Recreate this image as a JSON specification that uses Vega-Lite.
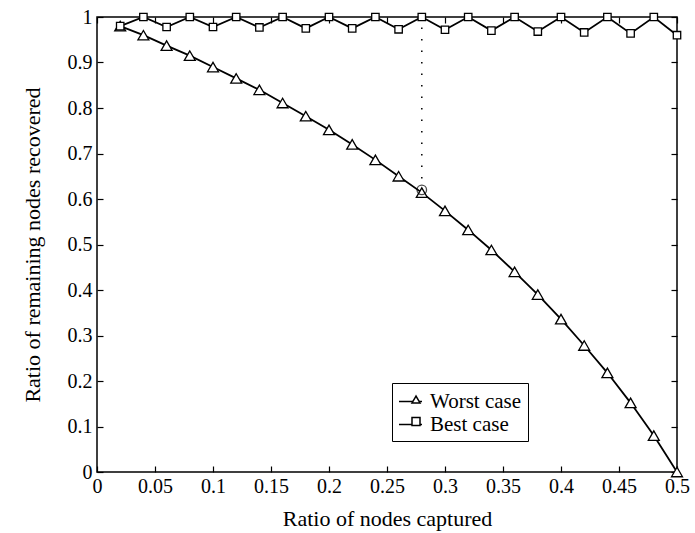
{
  "$schema": "https://vega.github.io/schema/vega-lite/v6.json",
  "width": 580,
  "height": 455,
  "autosize": {"type": "none"},
  "padding": {"left": 97, "top": 17, "right": 18, "bottom": 61},
  "background": "white",
  "config": {
    "font": "Liberation Serif",
    "view": {"stroke": "black", "strokeWidth": 1.5},
    "axis": {
      "grid": false,
      "domain": false,
      "tickColor": "black",
      "tickSize": -6,
      "tickWidth": 1.2,
      "labelColor": "black",
      "labelFont": "Liberation Serif",
      "labelFontSize": 20,
      "titleFont": "Liberation Serif",
      "titleFontSize": 22,
      "titleFontWeight": "normal",
      "titleColor": "black",
      "format": "~g"
    }
  },
  "datasets": {
    "curves": [
      {"x": 0.02, "y": 0.98, "series": "Worst case"},
      {"x": 0.04, "y": 0.96, "series": "Worst case"},
      {"x": 0.06, "y": 0.937, "series": "Worst case"},
      {"x": 0.08, "y": 0.915, "series": "Worst case"},
      {"x": 0.10, "y": 0.89, "series": "Worst case"},
      {"x": 0.12, "y": 0.865, "series": "Worst case"},
      {"x": 0.14, "y": 0.84, "series": "Worst case"},
      {"x": 0.16, "y": 0.811, "series": "Worst case"},
      {"x": 0.18, "y": 0.782, "series": "Worst case"},
      {"x": 0.20, "y": 0.752, "series": "Worst case"},
      {"x": 0.22, "y": 0.72, "series": "Worst case"},
      {"x": 0.24, "y": 0.686, "series": "Worst case"},
      {"x": 0.26, "y": 0.65, "series": "Worst case"},
      {"x": 0.28, "y": 0.614, "series": "Worst case"},
      {"x": 0.30, "y": 0.574, "series": "Worst case"},
      {"x": 0.32, "y": 0.532, "series": "Worst case"},
      {"x": 0.34, "y": 0.488, "series": "Worst case"},
      {"x": 0.36, "y": 0.44, "series": "Worst case"},
      {"x": 0.38, "y": 0.39, "series": "Worst case"},
      {"x": 0.40, "y": 0.336, "series": "Worst case"},
      {"x": 0.42, "y": 0.278, "series": "Worst case"},
      {"x": 0.44, "y": 0.218, "series": "Worst case"},
      {"x": 0.46, "y": 0.152, "series": "Worst case"},
      {"x": 0.48, "y": 0.08, "series": "Worst case"},
      {"x": 0.50, "y": 0.0, "series": "Worst case"},
      {"x": 0.02, "y": 0.98, "series": "Best case"},
      {"x": 0.04, "y": 1.0, "series": "Best case"},
      {"x": 0.06, "y": 0.978, "series": "Best case"},
      {"x": 0.08, "y": 1.0, "series": "Best case"},
      {"x": 0.10, "y": 0.978, "series": "Best case"},
      {"x": 0.12, "y": 1.0, "series": "Best case"},
      {"x": 0.14, "y": 0.977, "series": "Best case"},
      {"x": 0.16, "y": 1.0, "series": "Best case"},
      {"x": 0.18, "y": 0.975, "series": "Best case"},
      {"x": 0.20, "y": 1.0, "series": "Best case"},
      {"x": 0.22, "y": 0.975, "series": "Best case"},
      {"x": 0.24, "y": 1.0, "series": "Best case"},
      {"x": 0.26, "y": 0.973, "series": "Best case"},
      {"x": 0.28, "y": 1.0, "series": "Best case"},
      {"x": 0.30, "y": 0.972, "series": "Best case"},
      {"x": 0.32, "y": 1.0, "series": "Best case"},
      {"x": 0.34, "y": 0.97, "series": "Best case"},
      {"x": 0.36, "y": 1.0, "series": "Best case"},
      {"x": 0.38, "y": 0.968, "series": "Best case"},
      {"x": 0.40, "y": 1.0, "series": "Best case"},
      {"x": 0.42, "y": 0.966, "series": "Best case"},
      {"x": 0.44, "y": 1.0, "series": "Best case"},
      {"x": 0.46, "y": 0.964, "series": "Best case"},
      {"x": 0.48, "y": 1.0, "series": "Best case"},
      {"x": 0.50, "y": 0.96, "series": "Best case"}
    ],
    "marker": [{"x": 0.28, "y": 0.62, "y2": 1.0}]
  },
  "resolve": {"axis": {"x": "independent", "y": "independent"}},
  "layer": [
    {
      "data": {"name": "marker"},
      "mark": {"type": "rule", "stroke": "black", "strokeWidth": 1.5, "strokeDash": [1.5, 10]},
      "encoding": {
        "x": {"field": "x", "type": "quantitative", "scale": {"domain": [0, 0.5], "nice": false},
          "axis": {"orient": "bottom", "title": "Ratio of nodes captured", "values": [0, 0.05, 0.1, 0.15, 0.2, 0.25, 0.3, 0.35, 0.4, 0.45, 0.5], "labelFlush": false, "labelPadding": 10, "titlePadding": 12}},
        "y": {"field": "y", "type": "quantitative", "scale": {"domain": [0, 1], "nice": false},
          "axis": {"orient": "left", "title": "Ratio of remaining nodes recovered", "values": [0, 0.1, 0.2, 0.3, 0.4, 0.5, 0.6, 0.7, 0.8, 0.9, 1], "labelFlush": false, "labelPadding": 11, "titlePadding": 23}},
        "y2": {"field": "y2"}
      }
    },
    {
      "data": {"name": "curves"},
      "mark": {"type": "line", "strokeWidth": 1.8},
      "encoding": {
        "x": {"field": "x", "type": "quantitative", "axis": null},
        "y": {"field": "y", "type": "quantitative", "axis": null},
        "color": {"field": "series", "type": "nominal", "sort": ["Worst case", "Best case"],
          "scale": {"range": ["black", "black"]},
          "legend": {"title": null, "orient": "none", "legendX": 295, "legendY": 366, "strokeColor": "black", "padding": 6, "labelFontSize": 21, "labelFont": "Liberation Serif", "labelColor": "black", "symbolType": "stroke", "symbolSize": 529, "symbolStrokeWidth": 1.5, "rowPadding": 0, "labelOffset": 7, "fillColor": "white", "zindex": 1}}
      }
    },
    {
      "data": {"name": "curves"},
      "transform": [{"filter": "datum.series === 'Worst case'"}],
      "mark": {"type": "point", "filled": true, "fill": "white", "stroke": "black", "strokeWidth": 1.3, "opacity": 1, "size": 120},
      "encoding": {
        "x": {"field": "x", "type": "quantitative", "axis": null},
        "y": {"field": "y", "type": "quantitative", "axis": null},
        "shape": {"field": "series", "type": "nominal",
          "scale": {"domain": ["Worst case", "Best case"], "range": ["triangle-up", "square"]},
          "legend": {"title": null, "orient": "none", "legendX": 302.5, "legendY": 366, "padding": 6, "labelFontSize": 21, "labelFont": "Liberation Serif", "labelExpr": "''", "symbolSize": 64, "rowPadding": 0, "labelOffset": 7, "zindex": 2,
            "encode": {"symbols": {"update": {
              "stroke": {"value": "black"},
              "fill": {"value": "white"},
              "strokeWidth": {"value": 1.3},
              "opacity": {"value": 1}
            }}}}}
      }
    },
    {
      "data": {"name": "curves"},
      "transform": [{"filter": "datum.series === 'Best case'"}],
      "mark": {"type": "point", "filled": true, "fill": "white", "stroke": "black", "strokeWidth": 1.3, "opacity": 1, "size": 55},
      "encoding": {
        "x": {"field": "x", "type": "quantitative", "axis": null},
        "y": {"field": "y", "type": "quantitative", "axis": null},
        "shape": {"field": "series", "type": "nominal"}
      }
    },
    {
      "data": {"name": "marker"},
      "mark": {"type": "point", "shape": "circle", "size": 90, "filled": false, "stroke": "black", "strokeWidth": 1.3},
      "encoding": {
        "x": {"field": "x", "type": "quantitative", "axis": null},
        "y": {"field": "y", "type": "quantitative", "axis": null}
      }
    },
    {
      "data": {"name": "marker"},
      "mark": {"type": "point", "opacity": 0},
      "encoding": {
        "x": {"field": "x", "type": "quantitative",
          "axis": {"orient": "top", "labels": false, "title": null, "values": [0, 0.05, 0.1, 0.15, 0.2, 0.25, 0.3, 0.35, 0.4, 0.45, 0.5]}},
        "y": {"field": "y", "type": "quantitative",
          "axis": {"orient": "right", "labels": false, "title": null, "values": [0, 0.1, 0.2, 0.3, 0.4, 0.5, 0.6, 0.7, 0.8, 0.9, 1]}}
      }
    }
  ]
}
